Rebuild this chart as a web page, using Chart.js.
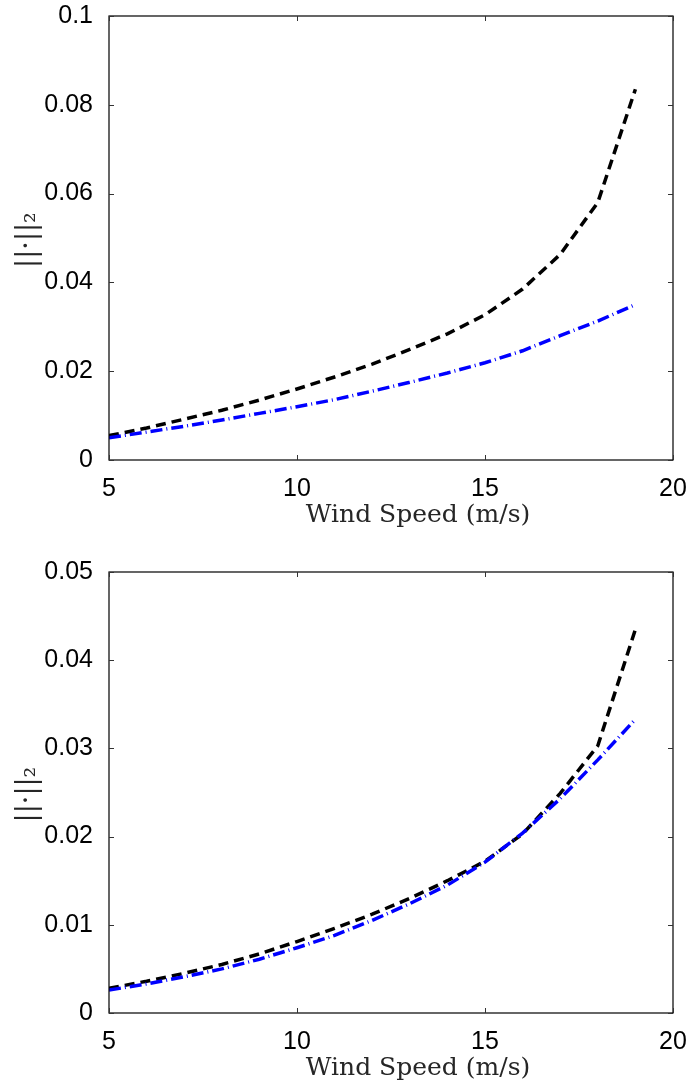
<!DOCTYPE html>
<html>
<head>
<meta charset="utf-8">
<script src="https://cdn.jsdelivr.net/npm/chart.js@4/dist/chart.umd.min.js"></script>
<style>
  html, body { margin: 0; padding: 0; background: #fff; }
  #wrap { position: relative; width: 692px; height: 1086px; }
  canvas { position: absolute; left: 0; }
  #top { top: 0; }
  #bottom { top: 543px; }
</style>
</head>
<body>
<div id="wrap">
  <canvas id="top" width="692" height="543"></canvas>
  <canvas id="bottom" width="692" height="543"></canvas>
</div>
<script>
// --- DATA ---
const speeds = [5, 6, 7, 8, 9, 10, 11, 12, 13, 14, 15, 16, 17, 18, 19];

// upper panel
const topBlack = [0.0055, 0.0072, 0.0092, 0.0112, 0.0135, 0.0160, 0.0187, 0.0216, 0.0249, 0.0284, 0.0327, 0.0385, 0.0463, 0.0580, 0.0835];
const topBlue  = [0.0050, 0.0063, 0.0076, 0.0090, 0.0105, 0.0120, 0.0136, 0.0155, 0.0175, 0.0196, 0.0219, 0.0246, 0.0280, 0.0313, 0.0350];

// lower panel
const botBlack = [0.0028, 0.0036, 0.0045, 0.0055, 0.0067, 0.0081, 0.0096, 0.0112, 0.0130, 0.0150, 0.0172, 0.0203, 0.0249, 0.0303, 0.0435];
const botBlue  = [0.0026, 0.0033, 0.0041, 0.0050, 0.0061, 0.0074, 0.0088, 0.0105, 0.0124, 0.0145, 0.0171, 0.0204, 0.0243, 0.0287, 0.0333];

const xTicks = [5, 10, 15, 20];
const yTicksTop = [0, 0.02, 0.04, 0.06, 0.08, 0.1];
const yTicksBot = [0, 0.01, 0.02, 0.03, 0.04, 0.05];

const xTitle = 'Wind Speed (m/s)';
const yTitle = '||\u00b7||\u2082';

// --- helpers ---
const pts = (ys) => speeds.map((s, i) => ({ x: s, y: ys[i] }));

// box + inward ticks + axis titles, matlab style
const framePlugin = {
  id: 'frame',
  afterDraw(chart) {
    const { ctx, chartArea: a, scales } = chart;
    ctx.save();
    ctx.strokeStyle = '#000';
    ctx.lineWidth = 1.2;
    ctx.strokeRect(a.left, a.top, a.right - a.left, a.bottom - a.top);

    const tl = 5;
    ctx.lineWidth = 1;
    ctx.strokeStyle = '#333';
    ctx.beginPath();
    scales.x.ticks.forEach(t => {
      const px = Math.round(scales.x.getPixelForValue(t.value)) + 0.5;
      ctx.moveTo(px, a.bottom); ctx.lineTo(px, a.bottom - tl);
      ctx.moveTo(px, a.top); ctx.lineTo(px, a.top + tl);
    });
    scales.y.ticks.forEach(t => {
      const py = Math.round(scales.y.getPixelForValue(t.value)) + 0.5;
      ctx.moveTo(a.left, py); ctx.lineTo(a.left + tl, py);
      ctx.moveTo(a.right, py); ctx.lineTo(a.right - tl, py);
    });
    ctx.stroke();

    // axis titles
    ctx.fillStyle = '#262626';
    ctx.font = '25px "DejaVu Serif"';
    ctx.textAlign = 'center';
    ctx.textBaseline = 'alphabetic';
    ctx.fillText(xTitle, (a.left + a.right) / 2 + 27, a.bottom + 62);

    ctx.font = '27px "DejaVu Serif"';
    ctx.translate(28, (a.top + a.bottom) / 2 + 2);
    ctx.rotate(-Math.PI / 2);
    ctx.textBaseline = 'middle';
    ctx.fillText(yTitle, 0, 0);
    ctx.restore();
  }
};

function makeChart(id, black, blue, yMax, yTicks, padTop, xHeight) {
  return new Chart(document.getElementById(id), {
    type: 'line',
    data: {
      datasets: [
        {
          data: pts(blue),
          borderColor: '#0000ff',
          borderWidth: 3.5,
          borderDash: [12, 4, 1, 4],
          pointRadius: 0,
          tension: 0,
          fill: false
        },
        {
          data: pts(black),
          borderColor: '#000000',
          borderWidth: 3.5,
          borderDash: [10, 6],
          pointRadius: 0,
          tension: 0,
          fill: false
        }
      ]
    },
    options: {
      responsive: false,
      animation: false,
      layout: { padding: { top: padTop, right: 19, left: 0, bottom: 0 } },
      plugins: { legend: { display: false }, tooltip: { enabled: false } },
      scales: {
        x: {
          type: 'linear',
          min: 5, max: 20,
          grid: { display: false },
          border: { display: false },
          ticks: { font: { family: '"Liberation Sans", Arial', size: 25 }, color: '#000', padding: 6, maxRotation: 0 },
          afterBuildTicks: (s) => { s.ticks = xTicks.map(v => ({ value: v })); },
          afterFit: (s) => { s.height = xHeight; s.paddingLeft = 0; s.paddingRight = 0; }
        },
        y: {
          type: 'linear',
          min: 0, max: yMax,
          grid: { display: false },
          border: { display: false },
          ticks: {
            font: { family: '"Liberation Sans", Arial', size: 25 },
            color: '#000',
            padding: 8,
            callback: (v) => String(v)
          },
          afterBuildTicks: (s) => { s.ticks = yTicks.map(v => ({ value: v })); },
          afterFit: (s) => { s.width = 109; s.paddingTop = 0; s.paddingBottom = 0; }
        }
      }
    },
    plugins: [framePlugin]
  });
}

makeChart('top', topBlack, topBlue, 0.1, yTicksTop, 16, 83);
makeChart('bottom', botBlack, botBlue, 0.05, yTicksBot, 29, 73);
</script>
</body>
</html>
